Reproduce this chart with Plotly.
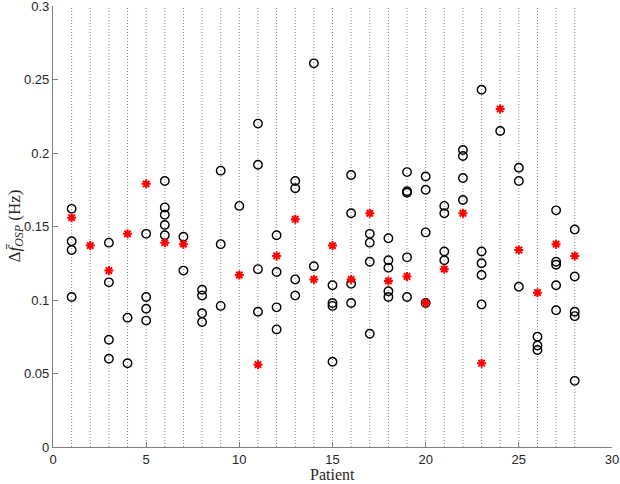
import plotly.graph_objects as go

patients = list(range(1, 29))

circle_values = {
    1: [0.162, 0.140, 0.134, 0.102],
    2: [],
    3: [0.139, 0.112, 0.073, 0.060],
    4: [0.088, 0.057],
    5: [0.145, 0.102, 0.094, 0.086],
    6: [0.181, 0.163, 0.158, 0.151, 0.144],
    7: [0.143, 0.120],
    8: [0.107, 0.103, 0.091, 0.085],
    9: [0.188, 0.138, 0.096],
    10: [0.164],
    11: [0.220, 0.192, 0.121, 0.092],
    12: [0.144, 0.119, 0.095, 0.080],
    13: [0.181, 0.176, 0.114, 0.103],
    14: [0.261, 0.123],
    15: [0.110, 0.098, 0.096, 0.058],
    16: [0.185, 0.159, 0.111, 0.098],
    17: [0.145, 0.139, 0.126, 0.077],
    18: [0.142, 0.127, 0.122, 0.106, 0.102],
    19: [0.187, 0.174, 0.173, 0.129, 0.102],
    20: [0.184, 0.175, 0.146, 0.098],
    21: [0.164, 0.159, 0.133, 0.127],
    22: [0.202, 0.198, 0.183, 0.168],
    23: [0.243, 0.133, 0.125, 0.117, 0.097],
    24: [0.215],
    25: [0.190, 0.181, 0.109],
    26: [0.075, 0.069, 0.066],
    27: [0.161, 0.126, 0.124, 0.110, 0.093],
    28: [0.148, 0.116, 0.092, 0.089, 0.045],
}

star_patients = [1, 2, 3, 4, 5, 6, 7, 10, 11, 12, 13, 14, 15, 16, 17, 18, 19,
                 20, 21, 22, 23, 24, 25, 26, 27, 28]
star_values = [0.156, 0.137, 0.120, 0.145, 0.179, 0.139, 0.138, 0.117, 0.056,
               0.130, 0.155, 0.114, 0.137, 0.114, 0.159, 0.113, 0.116, 0.098,
               0.121, 0.159, 0.057, 0.230, 0.134, 0.105, 0.138, 0.130]

x_ticks = [0, 5, 10, 15, 20, 25, 30]
y_ticks = [0, 0.05, 0.1, 0.15, 0.2, 0.25, 0.3]
y_tick_labels = ["0", "0.05", "0.1", "0.15", "0.2", "0.25", "0.3"]

x_title = "Patient"
y_title = "Δ<i>f\u0304</i><sub><i>OSP</i></sub> (Hz)"

# build traces
cx, cy = [], []
for p in patients:
    for v in circle_values[p]:
        cx.append(p)
        cy.append(v)

gx, gy = [], []
for p in patients:
    gx += [p, p, None]
    gy += [y_ticks[0], y_ticks[-1], None]

fig = go.Figure()
fig.add_trace(go.Scatter(x=gx, y=gy, mode="lines",
                         line=dict(color="#8c8c8c", width=1, dash="1px,2px"),
                         hoverinfo="skip", showlegend=False, cliponaxis=False))
fig.add_trace(go.Scatter(x=cx, y=cy, mode="markers",
                         marker=dict(symbol="circle-open", size=8.5,
                                     color="black", line=dict(width=1.4, color="black")),
                         showlegend=False))
fig.add_trace(go.Scatter(x=star_patients, y=star_values, mode="markers",
                         marker=dict(symbol="asterisk-open", size=7.5,
                                     color="#ff0000", line=dict(width=2, color="#ff0000")),
                         showlegend=False))

axis_col = "#7f7f7f"
title_font = dict(family="Liberation Serif", size=16, color="#262626")
fig.update_layout(
    width=620, height=484,
    margin=dict(l=53, r=8, t=6, b=37, autoexpand=False),
    plot_bgcolor="white", paper_bgcolor="white",
    font=dict(family="Liberation Sans", size=13, color="#262626"),
    xaxis=dict(range=[0, 30], tickvals=x_ticks, ticks="inside", ticklen=5,
               tickcolor=axis_col, tickwidth=1.2, showline=True, linecolor=axis_col, linewidth=1.2,
               showgrid=False, zeroline=False, mirror=False, automargin=False,
               ticklabeloverflow="allow"),
    yaxis=dict(range=[0, 0.3], tickvals=y_ticks, ticktext=y_tick_labels,
               ticks="inside", ticklen=5, tickcolor=axis_col, tickwidth=1.2,
               showline=True, linecolor=axis_col, linewidth=1.2,
               showgrid=False, zeroline=False, mirror=False, automargin=False,
               ticklabeloverflow="allow"),
    annotations=[
        dict(text=x_title, xref="paper", yref="paper", x=0.5, y=0,
             xanchor="center", yanchor="middle", yshift=-27, showarrow=False,
             borderpad=0, font=title_font),
        dict(text=y_title, xref="paper", yref="paper", x=0, y=0.5,
             xanchor="center", yanchor="middle", xshift=-38, textangle=-90,
             showarrow=False, borderpad=0, font=dict(title_font, size=17)),
    ],
)

fig.write_html("out.html", config={"displayModeBar": False},
               post_script="document.body.style.margin='0';document.body.style.overflow='hidden';")
